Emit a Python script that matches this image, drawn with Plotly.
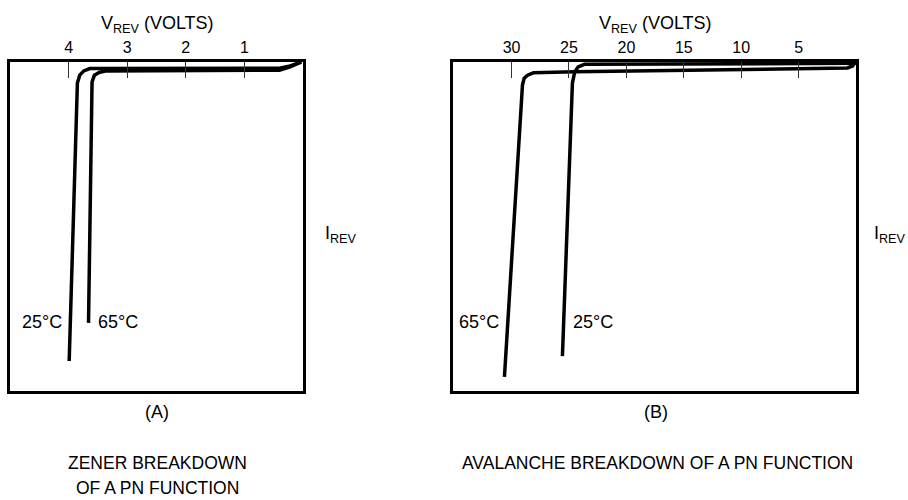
import plotly.graph_objects as go

# panel A - zener breakdown (V_REV in volts, I_REV in arbitrary units, 0 at top)
zener_25_v = [3.99, 3.85, 3.81, 3.74, 3.64, 2.60, 0.40, 0.22, 0.03]
zener_25_i = [9.09, 0.64, 0.40, 0.27, 0.20, 0.19, 0.19, 0.12, 0.0]
zener_65_v = [3.66, 3.60, 3.56, 3.47, 3.35, 2.60, 0.40, 0.22, 0.03]
zener_65_i = [7.93, 0.61, 0.40, 0.31, 0.27, 0.27, 0.25, 0.15, 0.0]
zener_ticks = [4, 3, 2, 1]

# panel B - avalanche breakdown
aval_65_v = [30.62, 29.05, 28.9, 28.6, 28.1, 24.5, 0.74, 0.30, 0.04]
aval_65_i = [9.57, 0.70, 0.49, 0.40, 0.33, 0.30, 0.18, 0.12, 0.0]
aval_25_v = [25.57, 24.7, 24.5, 24.2, 23.65, 0.04]
aval_25_i = [8.94, 0.64, 0.30, 0.15, 0.07, 0.04]
aval_ticks = [30, 25, 20, 15, 10, 5]

FONT = "Liberation Sans Narrow, Arial Narrow, Liberation Sans, Arial"
# body margin is removed in the page (see write_html below), so no offset
OX, OY = 0, 0
W, H = 908, 500


def fx(x):
    return (x - OX) / W


def fy(y):
    return 1 - (y - OY) / H


fig = go.Figure()
line = dict(color="black", width=3.5)
fig.add_trace(go.Scatter(x=zener_25_v, y=zener_25_i, mode="lines", line=line, xaxis="x", yaxis="y"))
fig.add_trace(go.Scatter(x=zener_65_v, y=zener_65_i, mode="lines", line=line, xaxis="x", yaxis="y"))
fig.add_trace(go.Scatter(x=aval_65_v, y=aval_65_i, mode="lines", line=line, xaxis="x2", yaxis="y2"))
fig.add_trace(go.Scatter(x=aval_25_v, y=aval_25_i, mode="lines", line=line, xaxis="x2", yaxis="y2"))

ydom = [fy(391), fy(62)]

xcommon = dict(side="top", ticks="inside", ticklen=16, tickwidth=1, tickcolor="#333",
               showline=True, linecolor="black", linewidth=2.5, mirror=True,
               showgrid=False, zeroline=False, tickfont=dict(family=FONT, size=16, color="black"))
ycommon = dict(range=[10, 0], showline=True, linecolor="black", linewidth=2.5, mirror=True,
               showgrid=False, zeroline=False, showticklabels=False, ticks="")

fig.update_layout(
    width=W, height=H, margin=dict(l=0, r=0, t=0, b=0),
    paper_bgcolor="white", plot_bgcolor="white", showlegend=False,
    font=dict(family=FONT, size=18, color="black"),
    xaxis=dict(xcommon, domain=[fx(10), fx(303)], range=[5, 0], tickvals=zener_ticks, anchor="y"),
    yaxis=dict(ycommon, domain=ydom, anchor="x"),
    xaxis2=dict(xcommon, domain=[fx(453), fx(856)], range=[35.1, 0], tickvals=aval_ticks, anchor="y2"),
    yaxis2=dict(ycommon, domain=ydom, anchor="x2"),
)


def px(x, y, text, anchor="center", size=18):
    fig.add_annotation(x=fx(x), y=fy(y), xref="paper", yref="paper", text=text,
                       showarrow=False, xanchor=anchor, yanchor="middle",
                       font=dict(family=FONT, size=size, color="black"))


title = "V<sub>REV</sub> (VOLTS)"
px(157, 24, title)
px(655, 24, title)
px(323, 234, "I<sub>REV</sub>", "left")
px(872, 234, "I<sub>REV</sub>", "left")
px(157, 412, "(A)")
px(656, 412, "(B)")
px(157, 463, "ZENER BREAKDOWN", size=17.5)
px(157, 488, "OF A PN FUNCTION", size=17.5)
px(657, 463, "AVALANCHE BREAKDOWN OF A PN FUNCTION", size=17.5)

# temperature labels next to the curves
for xr, yr, xv, txt, anc in [("x", "y", 4.08, "25°C", "right"), ("x", "y", 3.54, "65°C", "left"),
                              ("x2", "y2", 30.9, "65°C", "right"), ("x2", "y2", 24.8, "25°C", "left")]:
    fig.add_annotation(x=xv, y=7.9, xref=xr, yref=yr, text=txt, showarrow=False,
                       xanchor=anc, yanchor="middle", font=dict(family=FONT, size=18, color="black"))

fig.write_html("out.html", config={"displayModeBar": False},
               post_script="document.body.style.margin='0';document.body.style.overflow='hidden';")
